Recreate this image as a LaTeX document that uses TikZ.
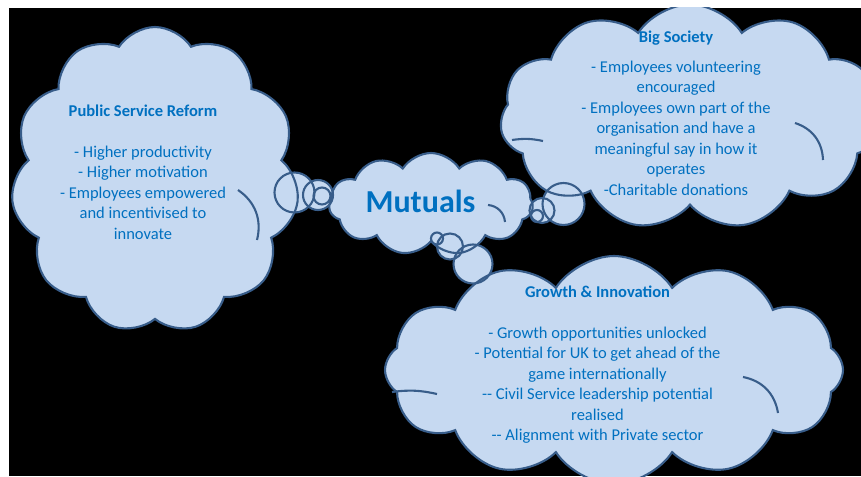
\documentclass[tikz,border=0pt]{standalone}
\usepackage{fontspec}
\setmainfont{Carlito}
\usetikzlibrary{shapes.symbols}
\definecolor{cloudfill}{RGB}{198,217,241}
\definecolor{cloudline}{RGB}{56,93,138}
\definecolor{cloudtext}{RGB}{0,112,192}
\tikzset{
  thought/.style={cloud,cloud puffs=11,cloud puff arc=115,inner sep=0pt,line width=2.1pt},
  bubble/.style={circle,inner sep=0pt,line width=2.1pt},
  fillpass/.style={draw=none,fill=cloudfill},
  linepass/.style={draw=cloudline,fill=none},
  fold/.style={draw=cloudline,line width=2.1pt},
  bodytext/.style={text=cloudtext,align=center,font=\fontsize{16.5}{20.5}\selectfont},
}
\begin{document}
\begin{tikzpicture}[x=1pt,y=-1pt]
	\useasboundingbox (0,0) rectangle (861,476);
	\fill[white] (0,0) rectangle (861,476);
	\clip (9,8) rectangle (861,476);
	\fill[black] (9,8) rectangle (861,476);
	
	\foreach \pass in {fillpass,linepass}{
		\node[thought,\pass,minimum width=288pt,minimum height=306pt] (psr-\pass) at (155,180) {};
		\node[thought,\pass,minimum width=204pt,minimum height=102pt] (mut-\pass) at (431,204) {};
		\node[thought,\pass,minimum width=380pt,minimum height=225pt] (big-\pass) at (690,117) {};
		\node[thought,\pass,cloud puffs=12,minimum width=458pt,minimum height=228pt] (gro-\pass) at (614,370) {};
		\node[bubble,\pass,minimum size=40pt] (psr-a-\pass) at (294.5,192.5) {};
		\node[bubble,\pass,minimum size=30pt] (psr-b-\pass) at (318,195) {};
		\node[bubble,\pass,minimum size=17pt] (psr-c-\pass) at (322,196) {};
		\node[bubble,\pass,minimum size=42pt] (big-a-\pass) at (563.5,204) {};
		\node[bubble,\pass,minimum size=25pt] (big-b-\pass) at (542,210.5) {};
		\node[bubble,\pass,minimum size=12pt] (big-c-\pass) at (537,216) {};
		\node[bubble,\pass,minimum size=12pt] (gro-c-\pass) at (437,238.5) {};
		\node[bubble,\pass,minimum size=26pt] (gro-b-\pass) at (450,246.5) {};
		\node[bubble,\pass,minimum size=39pt] (gro-a-\pass) at (473,264) {};
	}
	
	% inner folds of the clouds
	\draw[fold] (238,190) to[bend left=35] (257,240);
	\draw[fold] (488,205) to[bend left=40] (505,222);
	\draw[fold] (795,123) to[bend left=35] (823,160);
	\draw[fold] (512,140) to[bend left=10] (543,141);
	\draw[fold] (743,377) to[bend left=35] (778,413);
	\draw[fold] (392,392) to[bend left=10] (437,394);
	
	\node[bodytext] (psrtext) at (143,172) {\textbf{Public Service Reform}\\ \\- Higher productivity\\- Higher motivation\\- Employees empowered\\and incentivised to\\innovate};
	\node[text=cloudtext,font=\fontsize{32}{36}\selectfont\bfseries] (muttext) at (420.5,201) {Mutuals};
	\node[bodytext] (bigtext) at (676,113) {\textbf{Big Society}\\[9.5pt]- Employees volunteering\\encouraged\\- Employees own part of the\\organisation and have a\\meaningful say in how it\\operates\\-Charitable donations};
	\node[bodytext] (grotext) at (597.5,364.5) {\textbf{Growth \& Innovation}\\ \\- Growth opportunities unlocked\\- Potential for UK to get ahead of the\\game internationally\\-{}- Civil Service leadership potential\\realised\\-{}- Alignment with Private sector};
\end{tikzpicture}
\end{document}
